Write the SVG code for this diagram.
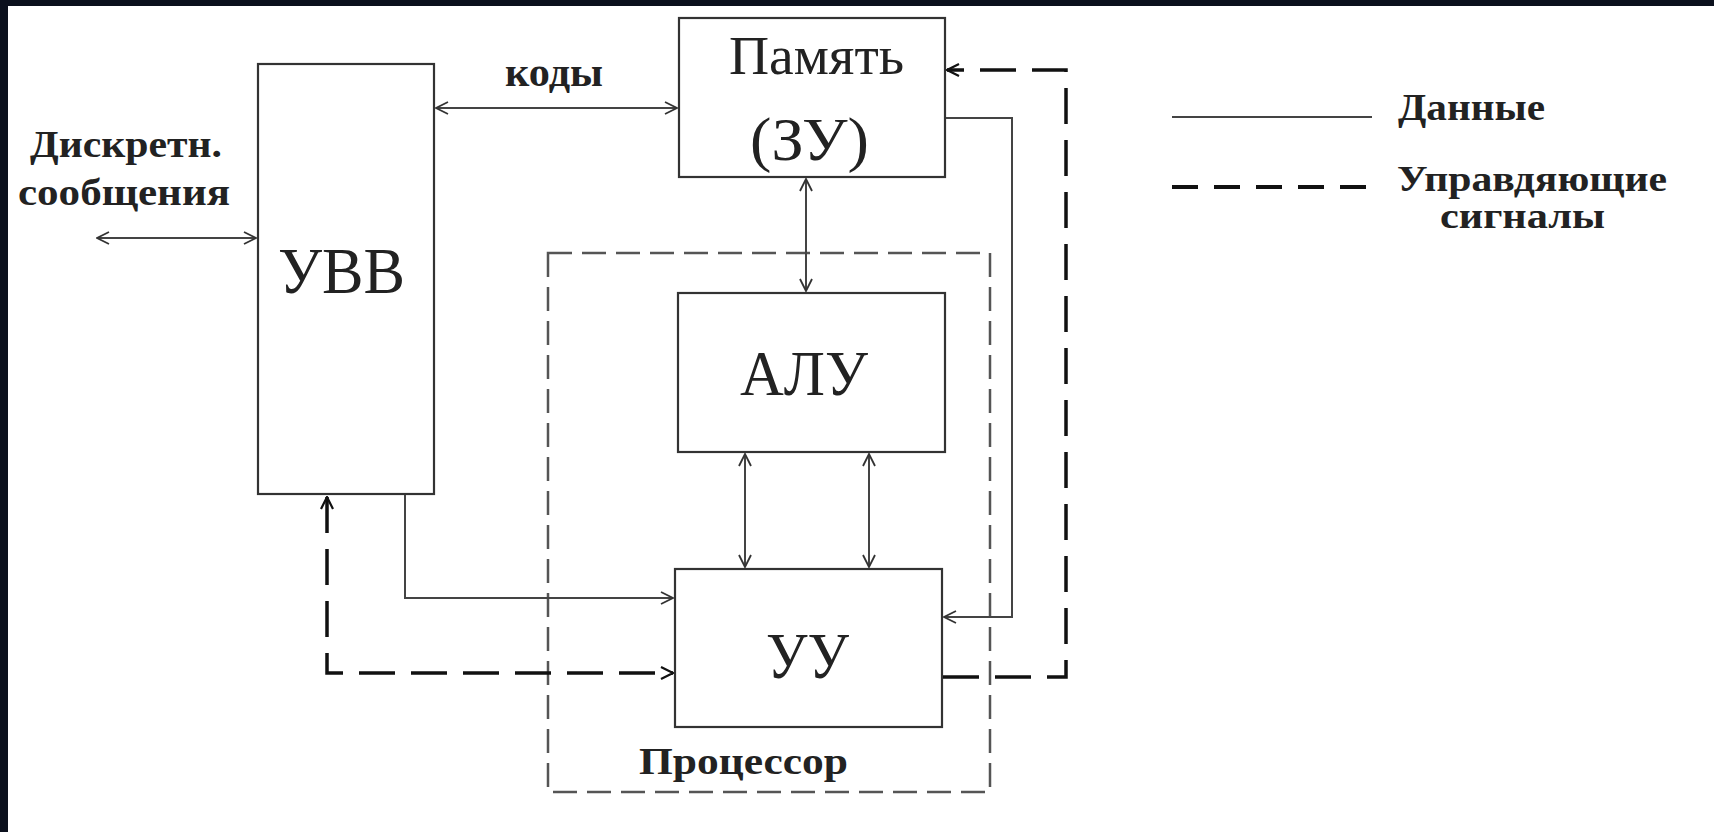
<svg xmlns="http://www.w3.org/2000/svg" width="1714" height="832" viewBox="0 0 1714 832">
<defs>
<marker id="ah" viewBox="0 0 14 14" refX="13" refY="7" markerWidth="14" markerHeight="14" markerUnits="userSpaceOnUse" orient="auto-start-reverse">
<path d="M1,1 L13,7 L1,13" fill="none" stroke="#333" stroke-width="1.8"/>
</marker>
<marker id="ahc" viewBox="0 0 14 14" refX="13" refY="7" markerWidth="14" markerHeight="14" markerUnits="userSpaceOnUse" orient="auto-start-reverse">
<path d="M1,1 L13,7 L1,13" fill="none" stroke="#111" stroke-width="2.2"/>
</marker>
</defs>
<style>
.box{fill:#fff;stroke:#333;stroke-width:2.2}
.data{fill:none;stroke:#444;stroke-width:2}
.ctrl{fill:none;stroke:#111;stroke-width:3.5;stroke-dasharray:36 16}
.proc{fill:none;stroke:#555;stroke-width:2.5;stroke-dasharray:24 10}
.big{font-family:"Liberation Serif","DejaVu Serif",serif;fill:#222}
.lbl{font-family:"Liberation Serif","DejaVu Serif",serif;font-weight:bold;fill:#222}
</style>
<rect x="0" y="0" width="1714" height="832" fill="#0b101d"/>
<rect x="8" y="6" width="1706" height="826" fill="#fff"/>

<g id="processor">
<rect class="proc" x="548" y="253" width="442" height="539"/>
<text class="lbl" x="639" y="774" font-size="38" textLength="209" lengthAdjust="spacingAndGlyphs">Процессор</text>
</g>

<g id="uvv">
<rect class="box" x="258" y="64" width="176" height="430"/>
<text class="big" x="278" y="293" font-size="66" textLength="127" lengthAdjust="spacingAndGlyphs">УВВ</text>
</g>

<g id="memory">
<rect class="box" x="679" y="18" width="266" height="159"/>
<text class="big" x="729" y="74" font-size="54" textLength="175" lengthAdjust="spacingAndGlyphs">Память</text>
<text class="big" x="750" y="160" font-size="62" textLength="119" lengthAdjust="spacingAndGlyphs">(ЗУ)</text>
</g>

<g id="alu">
<rect class="box" x="678" y="293" width="267" height="159"/>
<text class="big" x="740" y="395" font-size="64" textLength="128" lengthAdjust="spacingAndGlyphs">АЛУ</text>
</g>

<g id="uu">
<rect class="box" x="675" y="569" width="267" height="158"/>
<text class="big" x="766" y="678" font-size="66" textLength="83" lengthAdjust="spacingAndGlyphs">УУ</text>
</g>

<g id="labels">
<text class="lbl" x="30" y="157" font-size="38" textLength="192" lengthAdjust="spacingAndGlyphs">Дискретн.</text>
<text class="lbl" x="18" y="205" font-size="38" textLength="212" lengthAdjust="spacingAndGlyphs">сообщения</text>
<text class="lbl" x="505" y="86" font-size="40" textLength="98" lengthAdjust="spacingAndGlyphs">коды</text>
</g>

<g id="connectors">
<line class="data" x1="97" y1="238" x2="256" y2="238" marker-start="url(#ah)" marker-end="url(#ah)"/>
<line class="data" x1="436" y1="108" x2="677" y2="108" marker-start="url(#ah)" marker-end="url(#ah)"/>
<line class="data" x1="806" y1="179" x2="806" y2="291" marker-start="url(#ah)" marker-end="url(#ah)"/>
<line class="data" x1="745" y1="454" x2="745" y2="567" marker-start="url(#ah)" marker-end="url(#ah)"/>
<line class="data" x1="869" y1="454" x2="869" y2="567" marker-start="url(#ah)" marker-end="url(#ah)"/>
<polyline class="data" points="405,495 405,598 673,598" marker-end="url(#ah)"/>
<polyline class="data" points="946,118 1012,118 1012,617 944,617" marker-end="url(#ah)"/>
<polyline class="ctrl" points="327,497 327,673 673,673" marker-start="url(#ahc)" marker-end="url(#ahc)"/>
<polyline class="ctrl" points="943,677 1066,677 1066,70 947,70" marker-end="url(#ahc)"/>
</g>

<g id="legend">
<line class="data" x1="1172" y1="117" x2="1372" y2="117"/>
<line x1="1172" y1="187" x2="1376" y2="187" stroke="#111" stroke-width="4" stroke-dasharray="26 16"/>
<text class="lbl" x="1398" y="120" font-size="37" textLength="147" lengthAdjust="spacingAndGlyphs">Данные</text>
<text class="lbl" x="1397" y="191" font-size="35" textLength="270" lengthAdjust="spacingAndGlyphs">Управдяющие</text>
<text class="lbl" x="1440" y="228" font-size="35" textLength="165" lengthAdjust="spacingAndGlyphs">сигналы</text>
</g>
</svg>
